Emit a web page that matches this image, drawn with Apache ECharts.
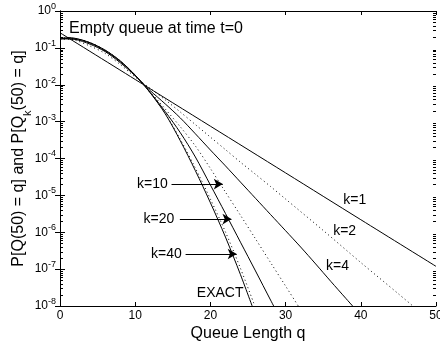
<!DOCTYPE html>
<html><head><meta charset="utf-8">
<script src="https://cdn.jsdelivr.net/npm/echarts@6/dist/echarts.min.js"></script>
<style>html,body{margin:0;padding:0;background:#fff}#c{width:440px;height:347px}</style>
</head><body><div id="c"></div>
<script>
// ---- data (probabilities on a log axis) ----
const xTicks = [0, 10, 20, 30, 40, 50];
const yExponents = [-8, -7, -6, -5, -4, -3, -2, -1, 0];

const qK1 = [0, 10, 20, 30, 40, 50];
const pK1 = [0.257, 1.39e-2, 7.52e-4, 4.07e-5, 2.19e-6, 1.19e-7];

const qK2 = [0, 2, 4, 6, 8, 10, 12, 14, 16, 18, 20, 22, 24, 26, 28, 30, 35, 40, 45, 50];
const pK2 = [0.200, 0.162, 0.112, 0.0708, 0.0355, 1.62e-2, 7.94e-3, 3.89e-3, 1.82e-3, 8.32e-4,
             3.80e-4, 1.74e-4, 7.94e-5, 3.72e-5, 1.74e-5, 7.94e-6, 1.12e-6, 1.51e-7, 2.14e-8, 2.95e-9];

const qK4 = [0, 2, 4, 6, 8, 10, 12, 14, 16, 18, 20, 22, 24, 26, 28, 30, 32, 34, 36, 38, 40];
const pK4 = [0.182, 0.170, 0.126, 0.0794, 0.0398, 1.74e-2, 6.92e-3, 3.02e-3, 1.26e-3, 4.68e-4,
             1.70e-4, 6.31e-5, 2.29e-5, 8.32e-6, 3.02e-6, 1.10e-6, 3.98e-7, 1.38e-7, 4.68e-8, 1.62e-8, 5.62e-9];

const qK10 = [0, 2, 4, 6, 8, 10, 12, 14, 16, 18, 20, 22, 24, 26, 28, 30, 32, 34];
const pK10 = [0.174, 0.174, 0.135, 0.0851, 0.0437, 1.78e-2, 6.46e-3, 2.19e-3, 7.24e-4, 2.19e-4,
              5.37e-5, 1.23e-5, 2.88e-6, 6.61e-7, 1.51e-7, 3.47e-8, 7.94e-9, 1.86e-9];

const qK20 = [0, 2, 4, 6, 8, 10, 12, 14, 16, 18, 20, 22, 24, 26, 28, 30];
const pK20 = [0.174, 0.176, 0.138, 0.0871, 0.0447, 0.0182, 6.17e-3, 1.86e-3, 5.01e-4, 1.10e-4,
              1.91e-5, 3.24e-6, 5.37e-7, 8.91e-8, 1.45e-8, 2.40e-9];

const qK40 = [0, 2, 4, 6, 8, 10, 12, 14, 16, 18, 20, 22, 24, 26];
const pK40 = [0.174, 0.176, 0.138, 0.0871, 0.0447, 0.0182, 6.03e-3, 1.66e-3, 3.31e-4, 5.50e-5,
              7.94e-6, 1.02e-6, 1.05e-7, 8.91e-9];

const qExact = [0, 1, 2, 4, 6, 8, 10, 12, 14, 16, 18, 20, 22, 24, 26];
const pExact = [0.170, 0.191, 0.182, 0.135, 0.0832, 0.0427, 0.0182, 6.03e-3, 1.62e-3, 3.02e-4,
                4.68e-5, 6.31e-6, 7.41e-7, 7.08e-8, 5.62e-9];

// annotation text labels: [text, q, p]
const curveLabels = [['k=1', 39.2, 7.4e-6], ['k=2', 37.85, 1.10e-6], ['k=4', 36.9, 1.21e-7],
                     ['EXACT', 21.3, 2.25e-8],
                     ['k=10', 12.3, 2.02e-5], ['k=20', 13.15, 2.28e-6], ['k=40', 14.15, 2.57e-7]];
// arrows: [qStart, qEnd, p]
const arrows = [[14.83, 21.65, 2.02e-5], [15.94, 22.8, 2.28e-6], [16.7, 23.5, 2.57e-7]];

const FONT = 'Liberation Sans, Arial, Helvetica, sans-serif';
const zip = (a, b) => a.map((v, i) => [v, b[i]]);

const minorVals = [];
for (let e = -8; e < 0; e++) for (let m = 2; m <= 9; m++) minorVals.push([0, m * Math.pow(10, e)]);

function lineSeries(name, q, p, dotted) {
  return {
    name, type: 'line', data: zip(q, p), showSymbol: false, symbol: 'none', smooth: 0.3,
    clip: true, silent: true, animation: false,
    lineStyle: { color: '#000', width: 1, type: dotted ? [1, 3] : 'solid' }
  };
}

const chart = echarts.init(document.getElementById('c'), null, { renderer: 'canvas' });
const exactSeries = lineSeries('EXACT', qExact, pExact, false);
exactSeries.markPoint = {
  symbol: 'circle', symbolSize: 1, itemStyle: { color: 'rgba(0,0,0,0)' }, silent: true, animation: false,
  label: { show: true, position: 'inside', color: '#000', fontSize: 14, fontFamily: FONT, formatter: p => p.name },
  data: curveLabels.map(l => ({ name: l[0], coord: [l[1], l[2]] }))
};
exactSeries.markLine = {
  silent: true, animation: false, symbol: ['none', 'arrow'], symbolSize: [8, 9],
  lineStyle: { color: '#000', width: 1, type: 'solid' }, label: { show: false },
  data: arrows.map(a => [{ coord: [a[0], a[2]] }, { coord: [a[1], a[2]] }])
};

chart.setOption({
  animation: false,
  backgroundColor: '#fff',
  title: {
    text: 'Empty queue at time t=0', left: 64, top: 16,
    textStyle: { fontSize: 16, fontWeight: 'normal', color: '#000', fontFamily: FONT }
  },
  grid: { left: 60, right: 4, top: 11, bottom: 41, containLabel: false, outerBoundsMode: 'none' },
  xAxis: [{
    type: 'value', min: xTicks[0], max: xTicks[xTicks.length - 1], interval: 10,
    name: 'Queue Length q', nameLocation: 'middle', nameGap: 20, nameMoveOverlap: false,
    nameTextStyle: { fontSize: 16, color: '#000', fontFamily: FONT },
    axisLine: { show: true, lineStyle: { color: '#000' } },
    axisTick: { inside: true, length: 4, lineStyle: { color: '#000' } },
    axisLabel: { fontSize: 12, color: '#000', fontFamily: FONT, margin: 4 },
    splitLine: { show: false }
  }, {
    type: 'value', min: xTicks[0], max: xTicks[xTicks.length - 1], interval: 10, position: 'top',
    axisLine: { show: true, lineStyle: { color: '#000' } },
    axisTick: { inside: true, length: 4, lineStyle: { color: '#000' } },
    axisLabel: { show: false }, splitLine: { show: false }
  }],
  yAxis: [{
    type: 'log', logBase: 10, min: Math.pow(10, yExponents[0]), max: Math.pow(10, yExponents[yExponents.length - 1]),
    splitNumber: 8,
    name: 'P[Q(50) = q] and P[Q{sub|k}(50) = q]', nameLocation: 'middle', nameGap: 33, nameMoveOverlap: false,
    nameTextStyle: {
      fontSize: 16, color: '#000', fontFamily: FONT,
      rich: { sub: { fontSize: 11, color: '#000', fontFamily: FONT, verticalAlign: 'bottom', lineHeight: 10, padding: [0, 0, -6, 0] } }
    },
    axisLine: { show: true, lineStyle: { color: '#000' } },
    axisTick: { inside: true, length: 5, lineStyle: { color: '#000' } },
    axisLabel: {
      margin: 4, color: '#000',
      formatter: v => '{b|10}{s|' + Math.round(Math.log10(v)) + '}',
      rich: {
        b: { fontSize: 12, lineHeight: 18, color: '#000', fontFamily: FONT },
        s: { fontSize: 9, lineHeight: 9, verticalAlign: 'top', color: '#000', fontFamily: FONT }
      }
    },
    splitLine: { show: false }
  }, {
    type: 'log', logBase: 10, min: Math.pow(10, yExponents[0]), max: Math.pow(10, yExponents[yExponents.length - 1]),
    splitNumber: 8, position: 'right',
    axisLine: { show: true, lineStyle: { color: '#000' } },
    axisTick: { inside: true, length: 5, lineStyle: { color: '#000' } },
    axisLabel: { show: false }, splitLine: { show: false }
  }],
  series: [
    lineSeries('k=1', qK1, pK1, false),
    lineSeries('k=2', qK2, pK2, true),
    lineSeries('k=4', qK4, pK4, false),
    lineSeries('k=10', qK10, pK10, true),
    lineSeries('k=20', qK20, pK20, false),
    lineSeries('k=40', qK40, pK40, true),
    exactSeries,
    {
      type: 'custom', silent: true, animation: false, data: minorVals, clip: false,
      renderItem: (params, api) => {
        const v = api.value(1);
        const pl = api.coord([xTicks[0], v]);
        const pr = api.coord([xTicks[xTicks.length - 1], v]);
        const y = Math.round(pl[1]) + 0.5;
        return {
          type: 'group', children: [
            { type: 'line', shape: { x1: pl[0], y1: y, x2: pl[0] + 3, y2: y }, style: { stroke: '#000', lineWidth: 1 } },
            { type: 'line', shape: { x1: pr[0] - 3, y1: y, x2: pr[0], y2: y }, style: { stroke: '#000', lineWidth: 1 } }
          ]
        };
      }
    }
  ]
});
</script></body></html>
